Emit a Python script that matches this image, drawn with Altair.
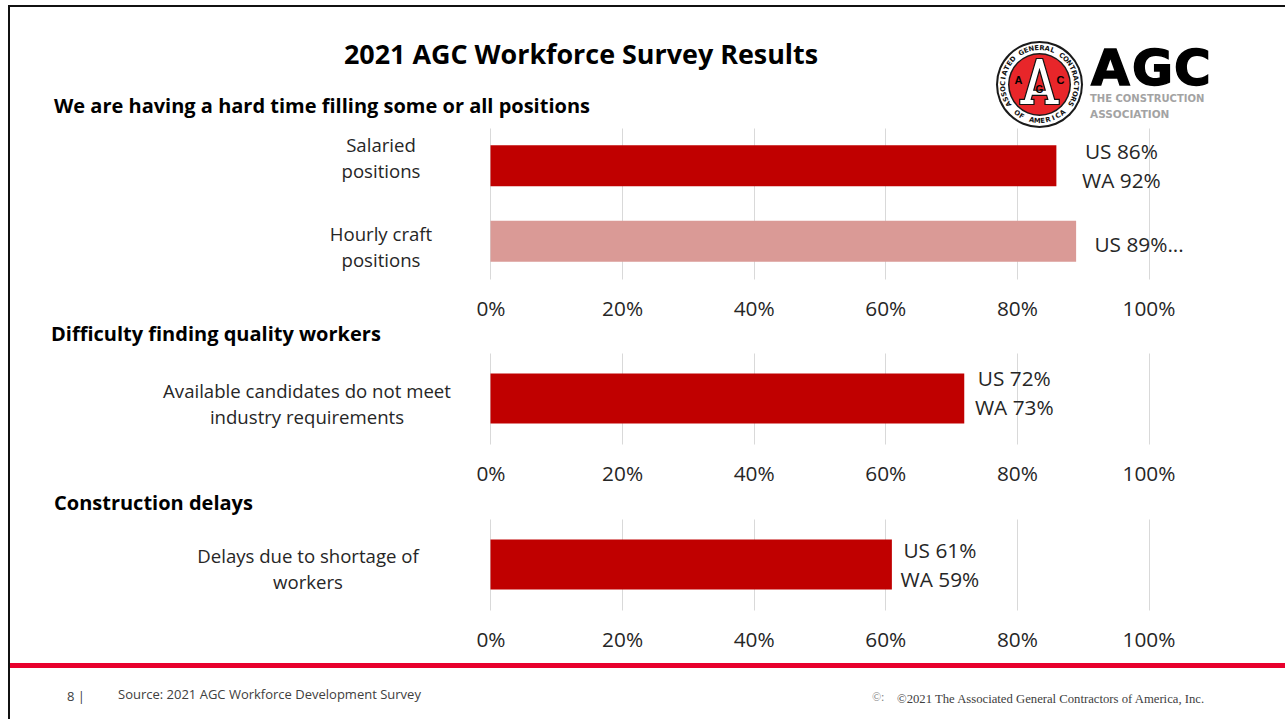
import math
import altair as alt
import pandas as pd

SANS = "Open Sans"
BAR = "#C00000"
BAR_LIGHT = "#DA9A96"
GRID = "#D9D9D9"
INK = "#262626"

# Survey results, per cent
pos_cats = ["Salaried\npositions", "Hourly craft\npositions"]
pos_values = [86, 89]
pos_labels = ["US 86%\nWA 92%", "US 89%..."]
pos_colors = [BAR, BAR_LIGHT]

quality_cats = ["Available candidates do not meet\nindustry requirements"]
quality_values = [72]
quality_labels = ["US 72%\nWA 73%"]

delay_cats = ["Delays due to shortage of\nworkers"]
delay_values = [61]
delay_labels = ["US 61%\nWA 59%"]

tick_values = [0, 20, 40, 60, 80, 100]

W, H = 1285, 719
ZERO_PX, PX_PER_PCT = 490.5, 6.58
x_domain = [-ZERO_PX / PX_PER_PCT, (W - ZERO_PX) / PX_PER_PCT]


def text(t, x, y, size=14, color="#000000", weight="normal", font=SANS, align="left", **kw):
    """A single fixed piece of slide text."""
    return alt.Chart(pd.DataFrame({"t": [t]})).mark_text(
        fontSize=size, color=color, fontWeight=weight, font=font, align=align,
        baseline="middle", lineBreak="\n", **kw
    ).encode(text="t:N", x=alt.value(x), y=alt.value(y + 1))


def disc(x, y, d, fill, **kw):
    return alt.Chart(pd.DataFrame({"t": [0]})).mark_point(
        filled=True, fill=fill, opacity=1, size=d * d, shape="circle", **kw
    ).encode(x=alt.value(x), y=alt.value(y))


def band(x1, x2, y1, y2, color):
    """A solid strip; a rect adds no stroke to the page bounds."""
    return alt.Chart(pd.DataFrame({"t": [0]})).mark_rect(color=color).encode(
        x=alt.value(x1), x2=alt.value(x2), y=alt.value(y1), y2=alt.value(y2)
    )


def ring_text(t, cx, cy, r, start, step, bottom=False):
    """Letters set one by one around the seal."""
    rows = []
    for i, ch in enumerate(t):
        deg = start + i * step
        rad = math.radians(deg)
        rows.append({
            "c": ch,
            "px": cx + r * math.sin(rad),
            "py": cy - r * math.cos(rad),
            "a": (deg + (180 if bottom else 0)) % 360,
        })
    return alt.Chart(pd.DataFrame(rows)).mark_text(
        fontSize=6.8, fontWeight="bold", font="DejaVu Sans", color="#111111", baseline="middle"
    ).encode(
        text="c:N",
        x=alt.X("px:Q", scale=None),
        y=alt.Y("py:Q", scale=None),
        angle=alt.Angle("a:Q", scale=None),
    )


def seal():
    cx, cy = 1039.5, 84.5
    big_a = (
        "M-0.14,-1 L0.14,-1 L0.66,0.78 L0.86,0.78 L0.86,1 L0.24,1 L0.24,0.78 L0.36,0.78 "
        "L0.31,0.6 L-0.31,0.6 L-0.36,0.78 L-0.24,0.78 L-0.24,1 L-0.86,1 L-0.86,0.78 L-0.66,0.78 Z "
        "M0,-0.5 L-0.25,0.38 L0.25,0.38 Z"
    )
    a_mark = alt.Chart(pd.DataFrame({"t": [0]})).mark_point(
        filled=True, fill="#FFFFFF", stroke="#111111", strokeWidth=1.2, opacity=1,
        size=46 * 46, shape=big_a,
    ).encode(x=alt.value(cx), y=alt.value(cy - 3))
    return [
        disc(cx, cy, 87, "#1A1A1A"),
        disc(cx, cy, 83, "#FFFFFF"),
        disc(cx, cy, 63, "#1A1A1A"),
        disc(cx, cy, 60, "#E8262A"),
        a_mark,
        text("A", cx - 21, cy - 5, size=11, weight="bold", font="Liberation Sans", align="center"),
        text("C", cx + 21, cy - 5, size=11, weight="bold", font="Liberation Sans", align="center"),
        text("G", cx, cy + 4, size=10, weight="bold", font="Liberation Sans", align="center"),
        ring_text("ASSOCIATED GENERAL CONTRACTORS", cx, cy, 36.5, -122, 8.4),
        ring_text("OF AMERICA", cx, cy, 36.5, 218, -8.6, bottom=True),
    ]


def wordmark():
    heavy = dict(size=50, weight="bold", font="DejaVu Sans", stroke="#000000", strokeWidth=1.5)
    return [
        text("A", 1091, 69, **heavy),
        text("G", 1132, 69, **heavy),
        text("C", 1174, 69, **heavy),
        text("THE CONSTRUCTION", 1090, 98, size=10, weight="bold", color="#A3A3A3", font="DejaVu Sans"),
        text("ASSOCIATION", 1090, 114, size=10.5, weight="bold", color="#A3A3A3", font="DejaVu Sans"),
    ]


def spacer(height, *layers):
    return alt.layer(*layers).properties(width=W, height=height)


def panel(cats, values, labels, colors, height, bar_size, cat_x, label_dx, label_dy, name_dy):
    df = pd.DataFrame({"cat": cats, "value": values, "label": labels, "color": colors})
    x = alt.X(
        "value:Q",
        scale=alt.Scale(domain=x_domain, nice=False, zero=False),
        axis=alt.Axis(
            values=tick_values, title=None, domain=False, ticks=False, grid=True,
            gridColor=GRID, gridWidth=1, labelExpr="datum.value + '%'", labelFont=SANS,
            labelFontSize=20.8, labelColor=INK, labelPadding=20, labelFlush=False,
        ),
    )
    y = alt.Y("cat:N", sort=cats, axis=None, scale=alt.Scale(paddingInner=0, paddingOuter=0))
    base = alt.Chart(df)
    bars = base.mark_bar(size=bar_size).encode(x=x, y=y, color=alt.Color("color:N", scale=None))
    name_layers = [
        alt.Chart(df.iloc[[i]]).mark_text(
            font=SANS, fontSize=18.6, color=INK, align="center", baseline="middle",
            lineBreak="\n", lineHeight=26, dy=off,
        ).encode(text="cat:N", x=alt.value(cat_x), y=y)
        for i, off in enumerate(name_dy)
    ]
    value_layers = [
        alt.Chart(df.iloc[[i]]).mark_text(
            font=SANS, fontSize=20.8, color=INK, align="center", baseline="middle",
            lineBreak="\n", lineHeight=29, dx=label_dx[i], dy=label_dy[i],
        ).encode(text="label:N", x=alt.X("value:Q"), y=y)
        for i in range(len(values))
    ]
    return alt.layer(bars, *name_layers, *value_layers).properties(width=W, height=height)


header = spacer(
    128,
    band(8, 10, 5, H, "#111111"),
    band(8, W, 5, 7, "#111111"),
    text("2021 AGC Workforce Survey Results", 581, 55, size=26.9, weight="bold", align="center"),
    text("We are having a hard time filling some or all positions", 54, 106, size=20, weight="bold"),
    *seal(),
    *wordmark(),
)
chart_positions = panel(pos_cats, pos_values, pos_labels, pos_colors, 151, 41, 381,
                        [65, 63], [-13, 5], [-20, -6])
gap_quality = spacer(74, text("Difficulty finding quality workers", 51, 334 - 279, size=20, weight="bold"))
chart_quality = panel(quality_cats, quality_values, quality_labels, [BAR], 91, 50, 307,
                      [50], [-18.5], [-7])
gap_delays = spacer(75, text("Construction delays", 54, 503 - 444, size=20, weight="bold"))
chart_delays = panel(delay_cats, delay_values, delay_labels, [BAR], 91, 50, 308,
                     [48], [-12.5], [-8])

footer = spacer(
    109,
    band(10, W, 663 - 610, 668 - 610, "#E8002D"),
    text("8 |", 67, 696 - 610, size=13, color="#404040"),
    text("Source: 2021 AGC Workforce Development Survey", 118, 694 - 610, size=13, color="#404040"),
    text("©:", 872, 696 - 610, size=12, color="#7F7F7F", font="Liberation Serif"),
    text("©2021 The Associated General Contractors of America, Inc.", 897, 698 - 610, size=12.7,
         color="#404040", font="Liberation Serif"),
)

chart = alt.vconcat(
    header, chart_positions, gap_quality, chart_quality, gap_delays, chart_delays, footer,
    spacing=0, bounds="flush",
).resolve_scale(x="independent", y="independent", color="independent").properties(
    padding=0, background="#FFFFFF"
).configure_view(stroke=None)

chart.save("out.html", embed_options={"renderer": "svg", "actions": False})
